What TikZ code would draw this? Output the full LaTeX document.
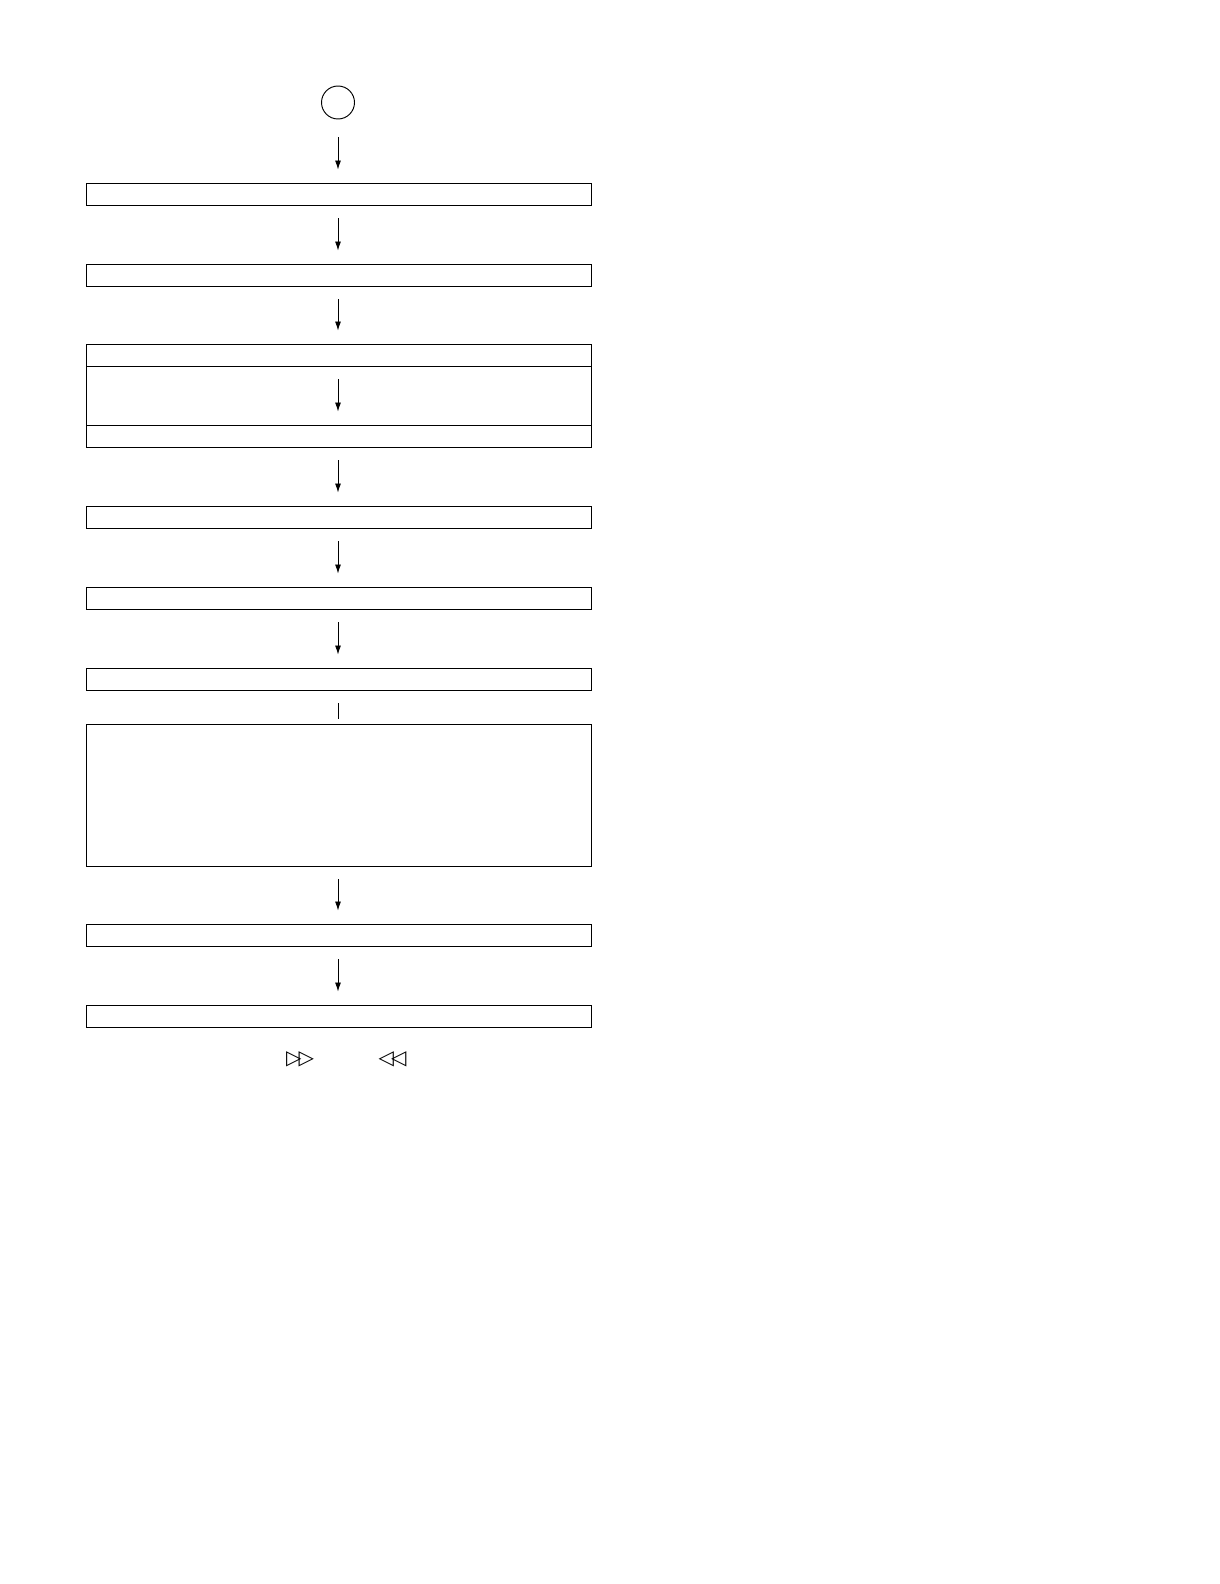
\documentclass[tikz,border=0pt]{standalone}
\usepackage{fontspec}
\newfontfamily\symfont{DejaVu Sans}
\usetikzlibrary{arrows.meta}
\begin{document}
\begin{tikzpicture}[x=1pt,y=-1pt,
  line width=0.95pt,
  stepbox/.style={draw, rectangle, inner sep=0pt, minimum width=505pt, minimum height=22pt},
  startcirc/.style={draw, circle, inner sep=0pt, minimum size=33pt},
  flow/.style={-{Latex[length=9pt,width=6pt]}, line width=0.85pt, shorten <=13pt, shorten >=13pt},
  sym/.style={inner sep=0pt, font=\symfont\fontsize{20}{20}\selectfont}
]
\useasboundingbox (0,0) rectangle (1220,1584);
\node[startcirc] (c) at (338,102.5) {};
\node[stepbox] (b1) at (338.5,194) {};
\node[stepbox] (b2) at (338.5,275) {};
\node[stepbox] (b3a) at (338.5,355) {};
\node[stepbox, minimum height=59pt] (b3b) at (338.5,395.5) {};
\node[stepbox] (b3c) at (338.5,436) {};
\node[stepbox] (b4) at (338.5,517) {};
\node[stepbox] (b5) at (338.5,598) {};
\node[stepbox] (b6) at (338.5,679) {};
\node[stepbox, minimum height=142pt] (b7) at (338.5,795) {};
\node[stepbox] (b8) at (338.5,935) {};
\node[stepbox] (b9) at (338.5,1016) {};
\coordinate (ax) at (338,0);
\draw[flow, shorten <=18pt] (c.south) -- (c.south |- b1.north);
\draw[flow] (ax |- b1.south) -- (ax |- b2.north);
\draw[flow] (ax |- b2.south) -- (ax |- b3a.north);
\draw[flow] (ax |- b3a.south) -- (ax |- b3c.north);
\draw[flow] (ax |- b3c.south) -- (ax |- b4.north);
\draw[flow] (ax |- b4.south) -- (ax |- b5.north);
\draw[flow] (ax |- b5.south) -- (ax |- b6.north);
\draw[line width=0.85pt, shorten <=13pt, shorten >=5pt] (ax |- b6.south) -- (ax |- b7.north);
\draw[flow] (ax |- b7.south) -- (ax |- b8.north);
\draw[flow] (ax |- b8.south) -- (ax |- b9.north);
\node[sym] (ff) at (300,1059) {▷\kern-0.14em▷};
\node[sym] (rew) at (392.5,1059) {◁\kern-0.14em◁};
\end{tikzpicture}
\end{document}
